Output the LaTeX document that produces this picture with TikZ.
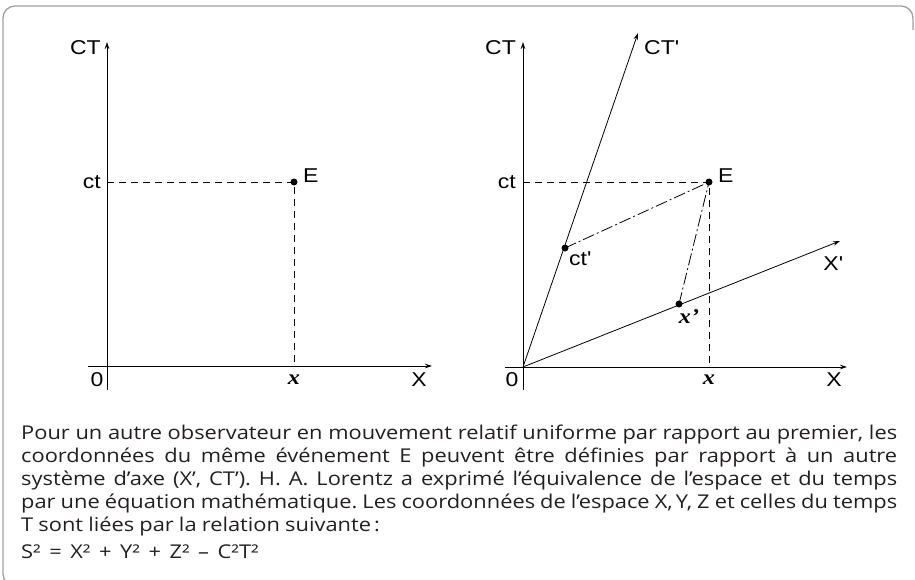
\documentclass[tikz,border=0pt]{standalone}
\usepackage{fontspec}
\usetikzlibrary{arrows.meta}
\newfontfamily\bodyfont[FakeStretch=1.15]{Open Sans}
\newfontfamily\labfont[FakeStretch=1.15]{Liberation Sans}
\newfontfamily\serfont[FakeStretch=1.15]{Liberation Serif}
\definecolor{framegray}{HTML}{A0A0A0}
\definecolor{bodytext}{HTML}{231F20}
\newcommand{\opgap}{\hspace{0.45em}}
\tikzset{
  frame/.style={draw=framegray, line width=1.3pt, rounded corners=12pt},
  axis/.style={line width=0.8pt, -{Stealth[length=7pt,width=4.5pt]}},
  guide/.style={line width=0.8pt, dash pattern=on 7pt off 5pt},
  proj/.style={line width=0.8pt, dash pattern=on 12pt off 3pt on 2pt off 3pt},
  evt/.style={circle, fill=black, inner sep=0pt, minimum size=7pt},
  lab/.style={font=\labfont\fontsize{20}{22}\selectfont, inner sep=0pt},
  xlab/.style={font=\serfont\bfseries\itshape\fontsize{21}{22}\selectfont, inner sep=0pt}
}
\begin{document}
\begin{tikzpicture}[x=1pt,y=-1pt]
\useasboundingbox (0,0) rectangle (915,580);
% frame
\draw[frame] (30,586) -- (3,586) -- (3,6) -- (913,6) -- (913,30);

% ---------- left diagram ----------
\coordinate (Lbot) at (107,390);
\coordinate (Ltop) at (107,42);
\coordinate (Lxl) at (88,366);
\coordinate (Lxr) at (432,366);
\coordinate (Lct) at (107,182);
\coordinate (Lx) at (294,366);
\node[evt] (E1) at (294,182) {};
\draw[axis] (Lbot) -- (Ltop);
\draw[axis] (Lxl) -- (Lxr);
\draw[guide] (Lct) -- (E1.center) -- (Lx);
\node[lab, anchor=east] (LCT) at (101,48) {CT};
\node[lab, anchor=east] (Lctl) at (101,182) {ct};
\node[lab, anchor=west] (LE) at (303,176) {E};
\node[lab] (L0) at (97,380) {0};
\node[xlab] (Lxlab) at (294,380) {x};
\node[lab] (LX) at (419,380) {X};

% ---------- right diagram ----------
\coordinate (O2) at (523,367);
\coordinate (Rbot) at (523,390);
\coordinate (Rtop) at (523,42);
\coordinate (Rxl) at (505,367);
\coordinate (Rxr) at (847,367);
\coordinate (CTp) at (638,33);
\coordinate (Xp) at (840,241);
\coordinate (Rct) at (523,182);
\coordinate (Rx) at (709,367);
\node[evt] (E2) at (709,182) {};
\node[evt] (ctp) at (565,248) {};
\node[evt] (xp) at (679,304) {};
\draw[axis] (Rbot) -- (Rtop);
\draw[axis] (Rxl) -- (Rxr);
\draw[axis] (O2) -- (CTp);
\draw[axis] (O2) -- (Xp);
\draw[guide] (Rct) -- (E2.center) -- (Rx);
\draw[proj] (ctp.center) -- (E2.center);
\draw[proj] (xp.center) -- (E2.center);
\node[lab, anchor=east] (RCT) at (516,48) {CT};
\node[lab, anchor=west] (RCTp) at (644,48) {CT\textquotesingle};
\node[lab, anchor=east] (Rctl) at (516,182) {ct};
\node[lab, anchor=west] (RE) at (718,176) {E};
\node[lab, anchor=west] (Rctp) at (569,259) {ct\textquotesingle};
\node[lab] (RXp) at (833,264) {X\textquotesingle};
\node[xlab] (Rxp) at (689,317) {x\textquoteright};
\node[lab] (R0) at (512,380) {0};
\node[xlab] (Rxlab) at (709,380) {x};
\node[lab] (RX) at (834,380) {X};

% ---------- text ----------
\node[anchor=north west, inner sep=0pt, text width=876pt, align=justify,
      text=bodytext, font=\bodyfont\fontsize{19}{23}\selectfont\frenchspacing] (body) at (21,425)
{\spaceskip=0.27em plus 0.5em minus 0.08em\relax
Pour un autre observateur en mouvement relatif uniforme par rapport au premier, les\linebreak
coordonnées du même événement E peuvent être définies par rapport à un autre\linebreak
système d’axe (X’, CT’). H. A. Lorentz a exprimé l’équivalence de l’espace et du temps\linebreak
par une équation mathématique. Les coordonnées de l’espace X,\,Y, Z et celles du temps\linebreak
T sont liées par la relation suivante\,:\par\vspace{4pt}
S²\opgap{}=\opgap{}X²\opgap{}+\opgap{}Y²\opgap{}+\opgap{}Z²\opgap{}–\opgap{}C²T²};
\end{tikzpicture}
\end{document}
